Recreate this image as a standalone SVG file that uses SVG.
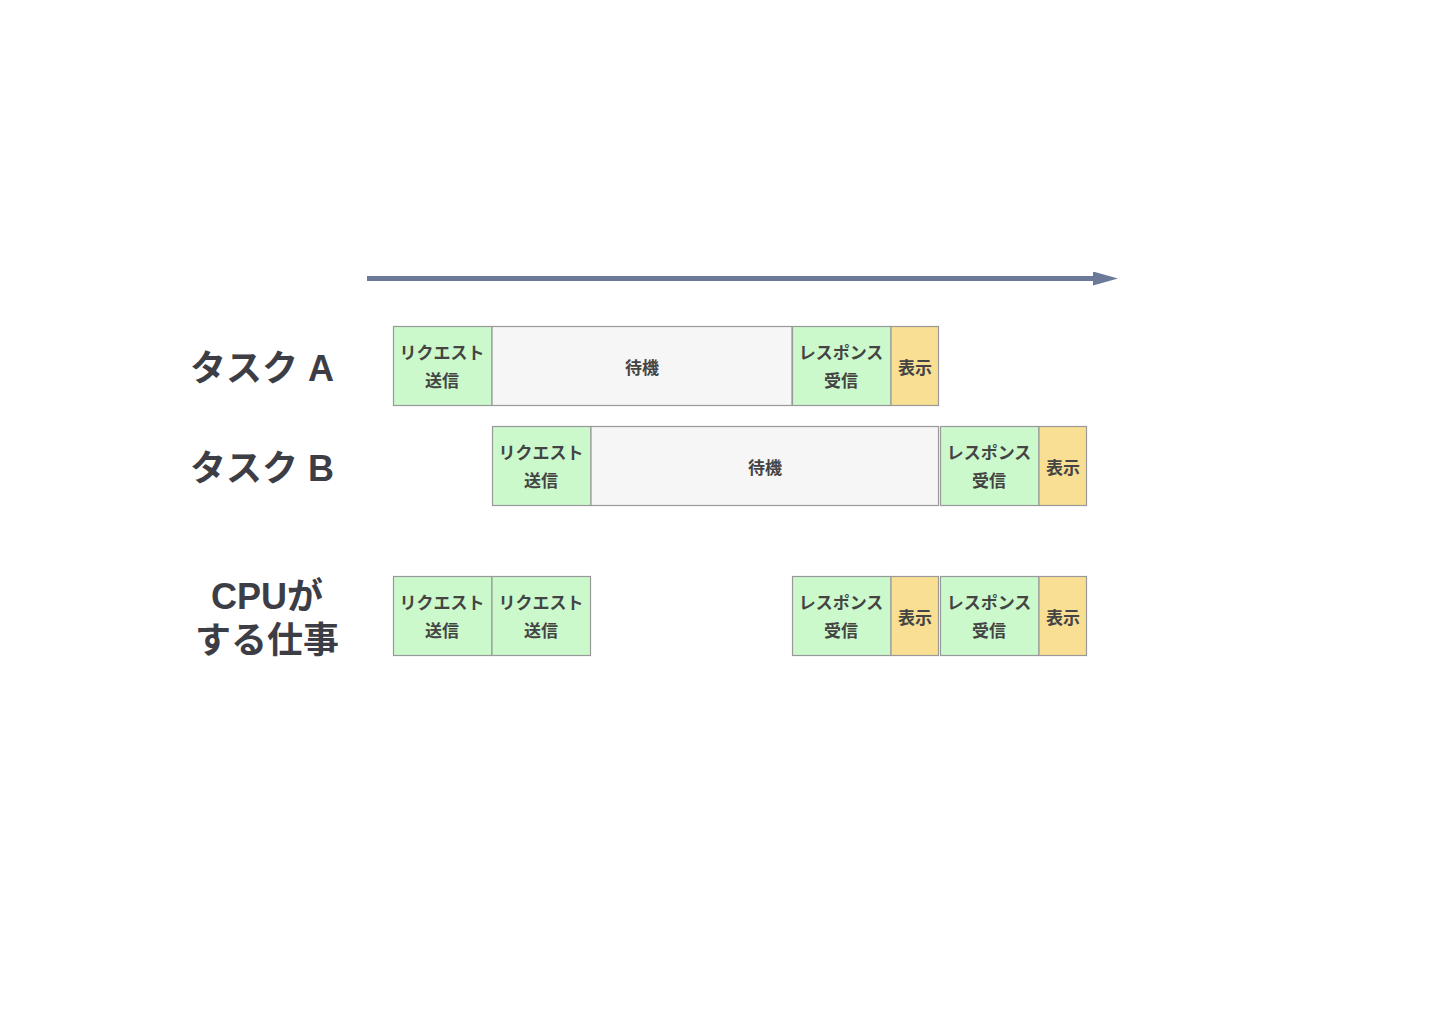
<svg xmlns="http://www.w3.org/2000/svg" width="1440" height="1024" viewBox="0 0 1440 1024">
<style>
.b{stroke:#999;stroke-width:1.2}
.g{fill:#ccf9cc}
.y{fill:#f9df94}
.w{fill:#f6f6f6}
.t{font-family:"Noto Sans CJK JP","Noto Sans",sans-serif;font-size:17px;font-weight:bold;fill:#444;text-anchor:middle;dominant-baseline:central}
.h{font-family:"Liberation Sans","Noto Sans CJK JP",sans-serif;font-size:36px;font-weight:bold;fill:#3d3d45;dominant-baseline:central}
</style>
<defs>
<marker id="ah" markerUnits="userSpaceOnUse" markerWidth="26" markerHeight="14" refX="0" refY="7" orient="auto">
<path d="M0,0 L25,7 L0,14 Z" fill="#6b7a99"/>
</marker>
</defs>
<rect width="1440" height="1024" fill="#fff"/>
<g id="connectors">
<line x1="367" y1="278.5" x2="1093" y2="278.5" stroke="#6b7a99" stroke-width="5" marker-end="url(#ah)"/>
</g>
<g id="labels">
<text class="h" x="190" y="368">タスク A</text>
<text class="h" x="190" y="468">タスク B</text>
<text class="h" x="267" y="596" text-anchor="middle">CPUが</text>
<text class="h" x="267" y="640" text-anchor="middle">する仕事</text>
</g>
<g id="taskA">
<g id="a1"><rect class="b g" x="393.5" y="326.5" width="98.5" height="79"/><text class="t" x="442" y="351">リクエスト</text><text class="t" x="442" y="379">送信</text></g>
<g id="a2"><rect class="b w" x="492" y="326.5" width="300" height="79"/><text class="t" x="642" y="366">待機</text></g>
<g id="a3"><rect class="b g" x="792.5" y="326.5" width="98.5" height="79"/><text class="t" x="841" y="351">レスポンス</text><text class="t" x="841" y="379">受信</text></g>
<g id="a4"><rect class="b y" x="891" y="326.5" width="47.5" height="79"/><text class="t" x="915" y="366">表示</text></g>
</g>
<g id="taskB">
<g id="b1"><rect class="b g" x="492.5" y="426.5" width="98.5" height="79"/><text class="t" x="541" y="451">リクエスト</text><text class="t" x="541" y="479">送信</text></g>
<g id="b2"><rect class="b w" x="591" y="426.5" width="347.5" height="79"/><text class="t" x="765" y="466">待機</text></g>
<g id="b3"><rect class="b g" x="940.5" y="426.5" width="98.5" height="79"/><text class="t" x="989" y="451">レスポンス</text><text class="t" x="989" y="479">受信</text></g>
<g id="b4"><rect class="b y" x="1039" y="426.5" width="47.5" height="79"/><text class="t" x="1063" y="466">表示</text></g>
</g>
<g id="cpu">
<g id="c1"><rect class="b g" x="393.5" y="576.5" width="98.5" height="79"/><text class="t" x="442" y="601">リクエスト</text><text class="t" x="442" y="629">送信</text></g>
<g id="c2"><rect class="b g" x="492" y="576.5" width="98.5" height="79"/><text class="t" x="541" y="601">リクエスト</text><text class="t" x="541" y="629">送信</text></g>
<g id="c3"><rect class="b g" x="792.5" y="576.5" width="98.5" height="79"/><text class="t" x="841" y="601">レスポンス</text><text class="t" x="841" y="629">受信</text></g>
<g id="c4"><rect class="b y" x="891" y="576.5" width="47.5" height="79"/><text class="t" x="915" y="616">表示</text></g>
<g id="c5"><rect class="b g" x="940.5" y="576.5" width="98.5" height="79"/><text class="t" x="989" y="601">レスポンス</text><text class="t" x="989" y="629">受信</text></g>
<g id="c6"><rect class="b y" x="1039" y="576.5" width="47.5" height="79"/><text class="t" x="1063" y="616">表示</text></g>
</g>
</svg>
